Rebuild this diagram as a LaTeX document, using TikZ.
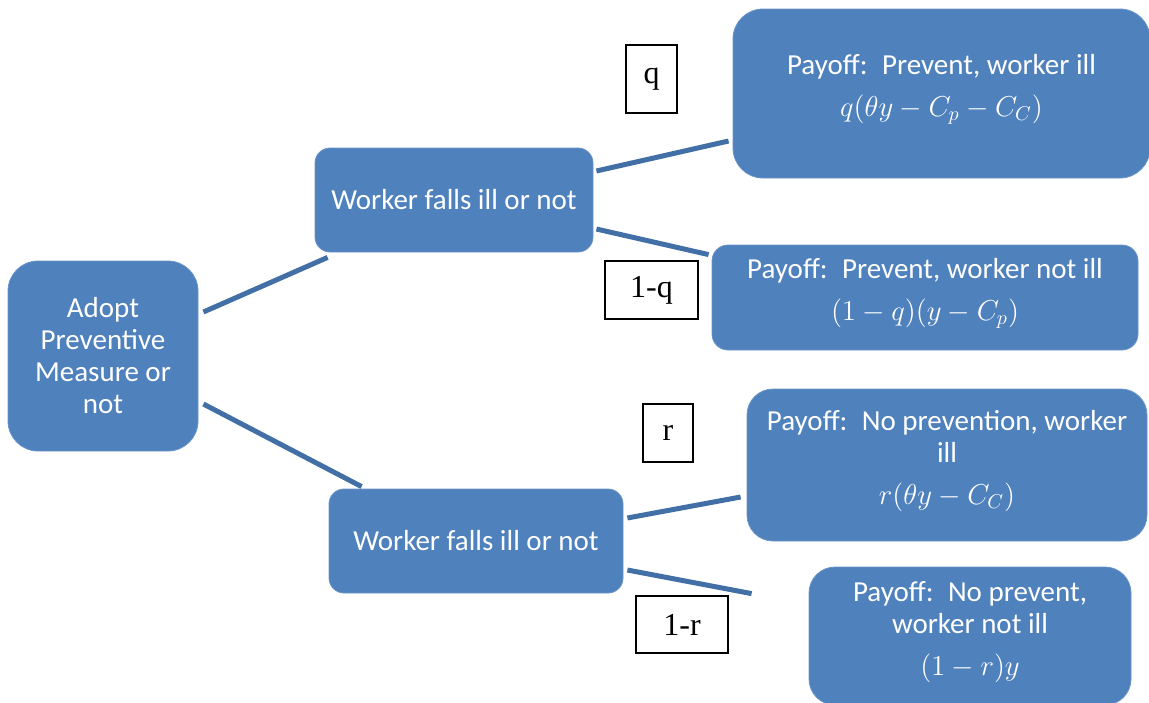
\documentclass[tikz,border=0pt]{standalone}
\usepackage{fontspec}
\setmainfont{Carlito}
\newfontfamily\labelfont{Liberation Serif}
\definecolor{boxblue}{RGB}{79,129,189}
\definecolor{linkblue}{RGB}{66,112,166}
\usetikzlibrary{positioning,calc}
\newcommand{\lowstrut}{\rule[-8pt]{0pt}{1pt}}

\begin{document}
\begin{tikzpicture}[x=0.5pt,y=-0.5pt,
    every node/.style={font=\fontsize{14.5}{16}\selectfont},
    decision/.style={fill=boxblue,draw=boxblue!85!white,text=white,align=center,inner sep=0pt},
    prob/.style={draw=black,line width=1pt,fill=white,inner sep=0pt,
      font=\labelfont\fontsize{16}{18}\selectfont},
    branch/.style={draw=linkblue,line width=2.5pt}]

  \clip (0,0) rectangle (1149,702);

  %% Decision nodes
  \node[decision,rounded corners=15pt,minimum width=95pt,minimum height=95pt] (adopt) at (103,356)
    {Adopt\\Preventive\\Measure or\\not};
  \node[decision,rounded corners=7.5pt,minimum width=139pt,minimum height=52pt] (upill) at (454,200)
    {Worker falls ill or not};
  \node[decision,rounded corners=7.5pt,minimum width=147pt,minimum height=52pt] (lowill) at (476,541)
    {Worker falls ill or not};

  %% Payoff nodes
  \node[decision,rounded corners=15pt,minimum width=208.5pt,minimum height=84.5pt] (payA) at (941.5,93.5)
    {Payoff:\enspace Prevent, worker ill\\[5pt] $q(\theta y-C_p-C_C)$\lowstrut};
  \node[decision,rounded corners=8pt,minimum width=213pt,minimum height=52.5pt] (payB) at (925,297.5)
    {Payoff:\enspace Prevent, worker not ill\\[5pt] $(1-q)(y-C_p)$\lowstrut};
  \node[decision,rounded corners=13pt,minimum width=200pt,minimum height=76pt] (payC) at (947,465)
    {Payoff:\enspace No prevention, worker\\ill\\[5pt] $r(\theta y-C_C)$\lowstrut};
  \node[decision,rounded corners=13pt,minimum width=161pt,minimum height=69pt] (payD) at (970,636)
    {Payoff:\enspace No prevent,\\worker not ill\\[5pt] $(1-r)y$\lowstrut};

  %% Probability labels
  \node[prob,minimum width=25.5pt,minimum height=34pt] (lq) at (651.5,79) {q};
  \node[prob,minimum width=46.5pt,minimum height=29pt] (lnq) at (651.5,290) {1-q};
  \node[prob,minimum width=25pt,minimum height=29pt] (lr) at (668,433) {r};
  \node[prob,minimum width=46pt,minimum height=28.5pt] (lnr) at (682,624.5) {1-r};

  %% Branches
  \draw[branch] ([shift={(2.5pt,22pt)}]adopt.east) -- ([shift={(6.5pt,-2.5pt)}]upill.south west);
  \draw[branch] ([shift={(2.5pt,-24pt)}]adopt.east) -- ([shift={(16.5pt,1pt)}]lowill.north west);
  \draw[branch] ([shift={(1.5pt,14.5pt)}]upill.east) -- ([shift={(-2pt,-23.75pt)}]payA.west);
  \draw[branch] ([shift={(1.5pt,-14.5pt)}]upill.east) -- ([shift={(-1.5pt,-5pt)}]payB.north west);
  \draw[branch] ([shift={(2pt,11.5pt)}]lowill.east) -- ([shift={(-3pt,-16pt)}]payC.west);
  \draw[branch] ([shift={(2pt,-14.5pt)}]lowill.east) -- ([shift={(-28.5pt,-13.5pt)}]payD.north west);
\end{tikzpicture}
\end{document}
